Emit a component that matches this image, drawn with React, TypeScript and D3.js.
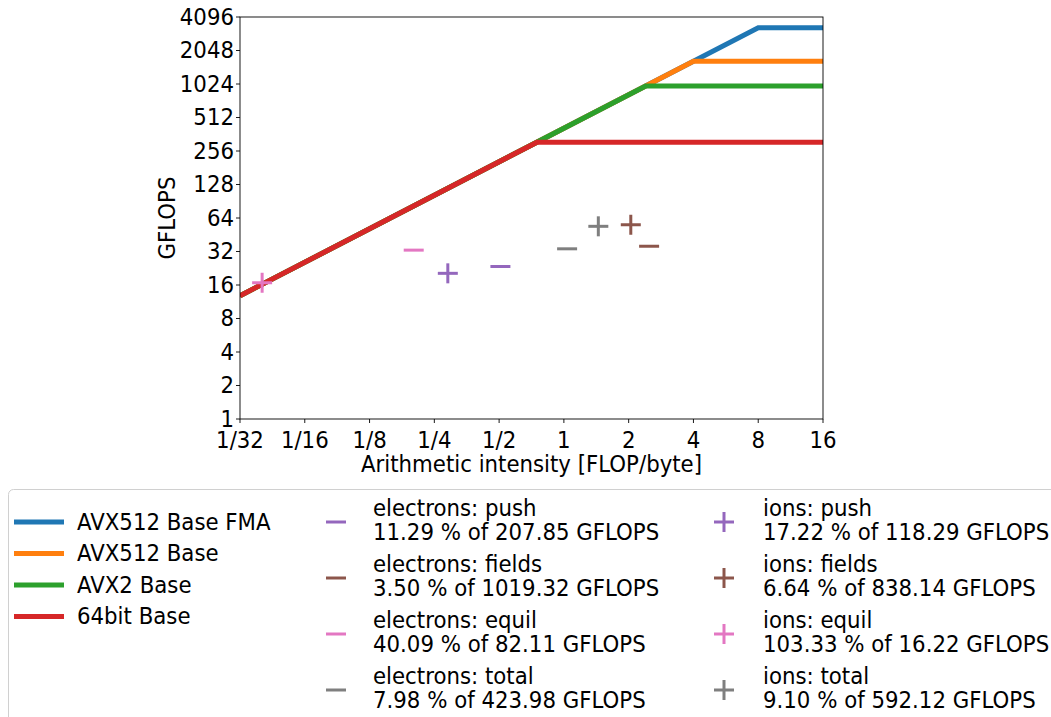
import * as d3 from "d3";
import React from "react";

// roofline ceilings (GFLOPS) and memory bandwidth (GB/s)
const roofNames = ["AVX512 Base FMA", "AVX512 Base", "AVX2 Base", "64bit Base"];
const roofPeaks = [3276.8, 1638.4, 983.0, 307.2];
const roofColors = ["#1f77b4", "#ff7f0e", "#2ca02c", "#d62728"];
const bandwidth = 409.6;

// measured kernels
const kernelNames = ["push", "fields", "equil", "total"];
const kernelColors = ["#9467bd", "#8c564b", "#e377c2", "#7f7f7f"];
const electronIntensity = [0.507, 2.489, 0.2005, 1.035];
const electronGflops = [23.47, 35.68, 32.92, 33.83];
const electronPct = ["11.29", "3.50", "40.09", "7.98"];
const electronPeak = ["207.85", "1019.32", "82.11", "423.98"];
const ionIntensity = [0.2888, 2.046, 0.0396, 1.4456];
const ionGflops = [20.37, 55.65, 16.76, 53.88];
const ionPct = ["17.22", "6.64", "103.33", "9.10"];
const ionPeak = ["118.29", "838.14", "16.22", "592.12"];

const xTicks = [1 / 32, 1 / 16, 1 / 8, 1 / 4, 1 / 2, 1, 2, 4, 8, 16];
const xTickLabels = ["1/32", "1/16", "1/8", "1/4", "1/2", "1", "2", "4", "8", "16"];
const yTicks = [1, 2, 4, 8, 16, 32, 64, 128, 256, 512, 1024, 2048, 4096];

const W = 1051;
const H = 717;
const left = 240, right = 823, top = 17, bottom = 419;
const font = "DejaVu Sans, sans-serif";
const fs = 21.3;

// text slightly stretched vertically, like the reference
const T = ({x, y, anchor = "start", rotate = 0, children}: any) => (
  <text
    transform={`translate(${x},${y}) rotate(${rotate}) scale(1,1.07)`}
    textAnchor={anchor}
    dominantBaseline="central"
    fontSize={fs}
  >
    {children}
  </text>
);

const Marker = ({kind, x, y, color}: {kind: string; x: number; y: number; color: string}) => {
  const r = 10;
  return (
    <g stroke={color} strokeWidth={3}>
      <line x1={x - r} x2={x + r} y1={y} y2={y} />
      {kind === "plus" && <line x1={x} x2={x} y1={y - r} y2={y + r} />}
    </g>
  );
};

export default function App() {
  const x = d3.scaleLog().base(2).domain([1 / 32, 16]).range([left, right]);
  const y = d3.scaleLog().base(2).domain([1, 4096]).range([bottom, top]);
  const line = d3.line<number[]>().x((d) => x(d[0])).y((d) => y(d[1]));

  const roofPath = (peak: number) => {
    const knee = peak / bandwidth;
    return line([
      [1 / 32, bandwidth / 32],
      [knee, peak],
      [16, peak],
    ]);
  };

  return (
    <svg width={W} height={H} style={{position: "absolute", left: 0, top: 0}} fontFamily={font}>
      <defs>
        <clipPath id="plotclip">
          <rect x={left} y={top} width={right - left} height={bottom - top} />
        </clipPath>
      </defs>
      <rect width={W} height={H} fill="#fff" />

      {/* roof lines */}
      <g clipPath="url(#plotclip)">
        {roofPeaks.map((p, i) => (
          <path key={i} d={roofPath(p) || ""} fill="none" stroke={roofColors[i]} strokeWidth={5} />
        ))}
      </g>

      {/* kernels */}
      {kernelNames.map((k, i) => (
        <Marker key={"e" + i} kind="minus" x={x(electronIntensity[i])} y={y(electronGflops[i])} color={kernelColors[i]} />
      ))}
      {kernelNames.map((k, i) => (
        <Marker key={"i" + i} kind="plus" x={x(ionIntensity[i])} y={y(ionGflops[i])} color={kernelColors[i]} />
      ))}

      {/* frame */}
      <rect x={left} y={top} width={right - left} height={bottom - top} fill="none" stroke="#000" strokeWidth={0.9} />

      {/* x axis */}
      {xTicks.map((t, i) => (
        <g key={i}>
          <line x1={x(t)} x2={x(t)} y1={bottom} y2={bottom + 4} stroke="#000" strokeWidth={0.9} />
          <T x={x(t)} y={bottom + 21} anchor="middle">
            {xTickLabels[i]}
          </T>
        </g>
      ))}
      <T x={(left + right) / 2} y={464} anchor="middle">
        Arithmetic intensity [FLOP/byte]
      </T>

      {/* y axis */}
      {yTicks.map((t, i) => (
        <g key={i}>
          <line x1={left - 4} x2={left} y1={y(t)} y2={y(t)} stroke="#000" strokeWidth={0.9} />
          <T x={left - 6} y={y(t)} anchor="end">
            {t}
          </T>
        </g>
      ))}
      <T x={167} y={(top + bottom) / 2} anchor="middle" rotate={-90}>
        GFLOPS
      </T>

      {/* legend */}
      <rect x={8.5} y={489.5} width={1060} height={240} rx={5} fill="#fff" stroke="#d0d0d0" strokeWidth={1} />
      {roofNames.map((n, i) => (
        <g key={i}>
          <line x1={14} x2={64} y1={522 + i * 31.5} y2={522 + i * 31.5} stroke={roofColors[i]} strokeWidth={5} />
          <T x={77} y={522 + i * 31.5}>
            {n}
          </T>
        </g>
      ))}
      {kernelNames.map((k, i) => (
        <g key={"le" + i}>
          <Marker kind="minus" x={336} y={522 + i * 56} color={kernelColors[i]} />
          <T x={373} y={508 + i * 56}>
            {"electrons: " + k}
          </T>
          <T x={373} y={532 + i * 56}>
            {electronPct[i] + " % of " + electronPeak[i] + " GFLOPS"}
          </T>
        </g>
      ))}
      {kernelNames.map((k, i) => (
        <g key={"li" + i}>
          <Marker kind="plus" x={724} y={522 + i * 56} color={kernelColors[i]} />
          <T x={763} y={508 + i * 56}>
            {"ions: " + k}
          </T>
          <T x={763} y={532 + i * 56}>
            {ionPct[i] + " % of " + ionPeak[i] + " GFLOPS"}
          </T>
        </g>
      ))}
    </svg>
  );
}
